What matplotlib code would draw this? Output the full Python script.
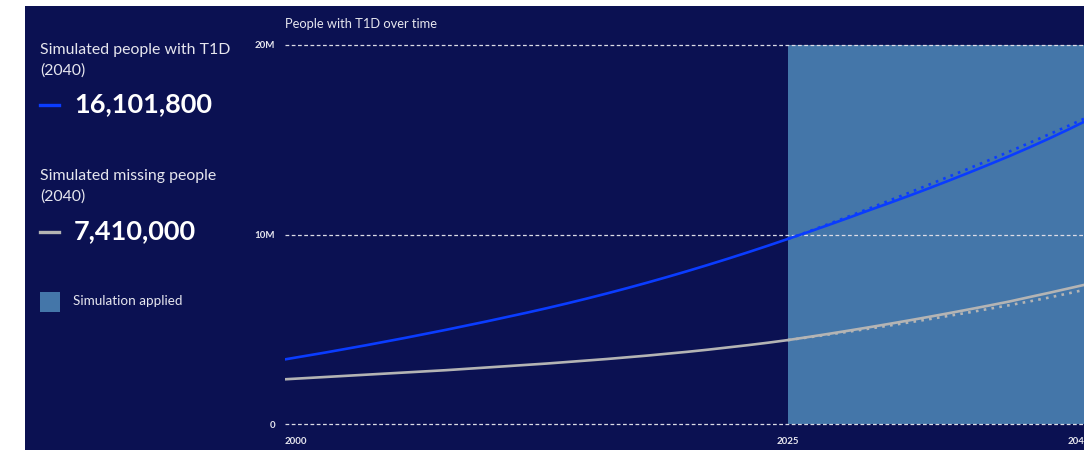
import numpy as np
import matplotlib.pyplot as plt
from matplotlib.lines import Line2D
from matplotlib.patches import Rectangle

plt.rcParams['font.family'] = ['Lato', 'DejaVu Sans']

# people with T1D (millions), history up to 2025
years_hist = list(range(2000, 2026))
t1d_hist = [3.41, 3.59, 3.77, 3.96, 4.15, 4.35, 4.55, 4.76, 4.97, 5.19,
            5.41, 5.64, 5.87, 6.11, 6.36, 6.62, 6.89, 7.17, 7.46, 7.76,
            8.07, 8.39, 8.72, 9.06, 9.41, 9.77]
missing_hist = [2.36, 2.42, 2.48, 2.54, 2.60, 2.66, 2.72, 2.78, 2.84, 2.91,
                2.98, 3.05, 3.12, 3.19, 3.27, 3.35, 3.43, 3.52, 3.61, 3.71,
                3.81, 3.92, 4.04, 4.16, 4.29, 4.43]

# 2025-2040: simulated (solid) and baseline (dotted)
years_sim = list(range(2025, 2041))
t1d_sim = [9.77, 10.13, 10.50, 10.88, 11.27, 11.65, 12.04, 12.44, 12.85, 13.27,
           13.70, 14.14, 14.60, 15.08, 15.58, 16.1018]
t1d_base = [9.77, 10.15, 10.55, 10.95, 11.36, 11.78, 12.20, 12.63, 13.06, 13.49,
            13.93, 14.38, 14.84, 15.30, 15.77, 16.25]
missing_sim = [4.43, 4.59, 4.755, 4.925, 5.10, 5.28, 5.465, 5.655, 5.85, 6.05,
               6.255, 6.465, 6.70, 6.93, 7.17, 7.41]
missing_base = [4.43, 4.57, 4.72, 4.87, 5.03, 5.19, 5.36, 5.53, 5.71, 5.89,
                6.08, 6.27, 6.47, 6.68, 6.91, 7.15]

y_ticks = [0, 10, 20]
y_labels = ['0', '10M', '20M']
x_ticks = [2000, 2025, 2040]

BG = '#0b1152'
SHADE = '#4476a9'
BLUE = '#0a3cff'
GREY = '#b4b4b4'
TXT = '#e6e6ee'

W, H = 1084, 450
fig = plt.figure(figsize=(W / 100, H / 100), dpi=100, facecolor='white')
fig.patches.append(Rectangle((25 / W, 0), 1 - 25 / W, 444 / H,
                             transform=fig.transFigure, facecolor=BG,
                             edgecolor='none', zorder=-5))

ax = fig.add_axes([285 / W, 26 / H, (1090 - 285) / W, (424 - 45) / H])
ax.set_facecolor(BG)
ax.axvspan(2025, 2040, color=SHADE, lw=0, zorder=1)

ax.plot(years_hist, t1d_hist, color=BLUE, lw=1.9, solid_capstyle='round', zorder=3)
ax.plot(years_sim, t1d_sim, color=BLUE, lw=1.9, solid_capstyle='round', zorder=3)
ax.plot(years_sim, t1d_base, color=BLUE, lw=1.9, ls=(0, (1, 2)), zorder=3)
ax.plot(years_hist, missing_hist, color=GREY, lw=1.9, solid_capstyle='round', zorder=3)
ax.plot(years_sim, missing_sim, color=GREY, lw=1.9, solid_capstyle='round', zorder=3)
ax.plot(years_sim, missing_base, color=GREY, lw=1.9, ls=(0, (1, 2)), zorder=3)

ax.set_xlim(2000, 2040)
ax.set_ylim(0, 20)
for v in y_ticks:
    ax.axhline(v, color='#dcdce6', lw=0.9, ls=(0, (3, 2)), zorder=2, clip_on=False)

ax.set_yticks(y_ticks)
ax.set_yticklabels(y_labels, fontsize=7, fontweight='bold', color=TXT)
ax.set_xticks(x_ticks)
ax.set_xticklabels([str(x) for x in x_ticks], fontsize=7, fontweight='bold', color=TXT)
for lab, ha in zip(ax.get_xticklabels(), ['left', 'center', 'right']):
    lab.set_horizontalalignment(ha)
ax.tick_params(length=0, pad=7)
ax.tick_params(axis='x', pad=9)
for s in ax.spines.values():
    s.set_visible(False)

fig.text(285 / W, 1 - 24 / H, 'People with T1D over time', fontsize=9.3,
         color=TXT, va='center', ha='left')

# left-hand summary panel
def fy(py):
    return 1 - py / H

fig.text(40 / W, fy(50), 'Simulated people with T1D', fontsize=11.4, color=TXT, va='center')
fig.text(40 / W, fy(71), '(2040)', fontsize=11.4, color=TXT, va='center')
fig.add_artist(Line2D([40 / W, 59 / W], [fy(105), fy(105)], color=BLUE, lw=2.4))
fig.text(74 / W, fy(104), f'{round(t1d_sim[-1] * 1e6):,}', fontsize=19.5,
         fontweight='bold', color='white', va='center')

fig.text(40 / W, fy(176), 'Simulated missing people', fontsize=11.4, color=TXT, va='center')
fig.text(40 / W, fy(197), '(2040)', fontsize=11.4, color=TXT, va='center')
fig.add_artist(Line2D([40 / W, 59 / W], [fy(232), fy(232)], color=GREY, lw=2.4))
fig.text(74 / W, fy(231), f'{round(missing_sim[-1] * 1e6):,}', fontsize=19.5,
         fontweight='bold', color='white', va='center')

fig.patches.append(Rectangle((40 / W, fy(312)), 20 / W, 20 / H, transform=fig.transFigure,
                             facecolor=SHADE, edgecolor='none'))
fig.text(73 / W, fy(301), 'Simulation applied', fontsize=9.7, color=TXT, va='center')

fig.savefig('out.png', dpi=100, facecolor='white')
